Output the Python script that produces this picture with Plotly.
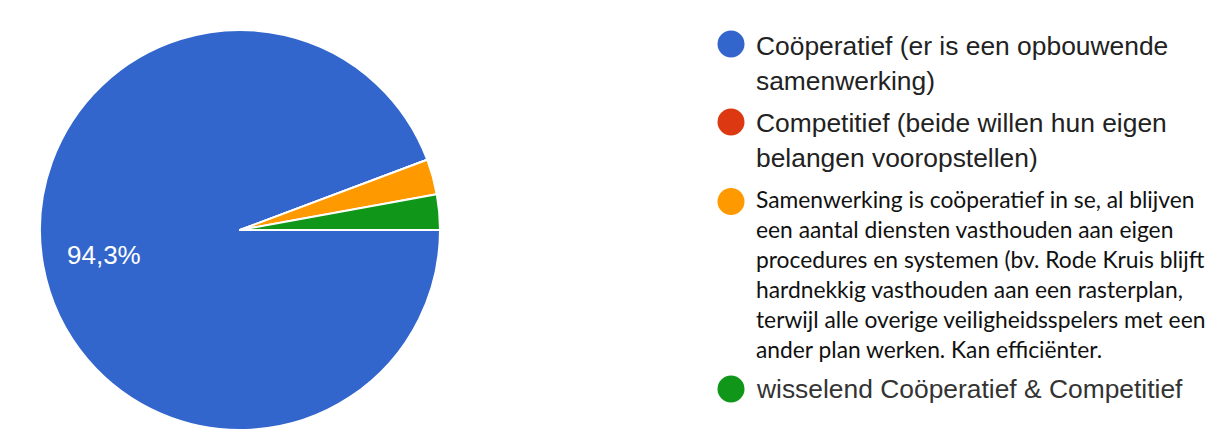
import math
import plotly.graph_objects as go

# Survey answers: how cooperation between services is experienced
labels = [
    "Coöperatief (er is een opbouwende<br>samenwerking)",
    "Competitief (beide willen hun eigen<br>belangen vooropstellen)",
    "Samenwerking is coöperatief in se, al blijven<br>een aantal diensten vasthouden aan eigen<br>"
    "procedures en systemen (bv. Rode Kruis blijft<br>hardnekkig vasthouden aan een rasterplan,<br>"
    "terwijl alle overige veiligheidsspelers met een<br>ander plan werken. Kan efficiënter.",
    "wisselend Coöperatief & Competitief",
]
counts = [33, 0, 1, 1]
colors = ["#3366CC", "#DC3912", "#FF9900", "#109618"]

W, H = 1217, 430


def px(x):
    return x / W


def py(y):
    return 1 - y / H


# pie geometry (pixels)
PIE_CX, PIE_CY, PIE_R = 240.0, 230.0, 200.0
START_DEG = 90.0  # first slice starts at 3 o'clock, running clockwise

fig = go.Figure(
    go.Pie(
        labels=labels,
        values=counts,
        sort=False,
        direction="clockwise",
        rotation=START_DEG,
        marker=dict(colors=colors, line=dict(color="white", width=2)),
        textinfo="none",
        hoverinfo="label+percent",
        showlegend=False,
        domain=dict(
            x=[px(PIE_CX - PIE_R), px(PIE_CX + PIE_R)],
            y=[py(PIE_CY + PIE_R), py(PIE_CY - PIE_R)],
        ),
    )
)

# percentage label for the dominant slice, placed along its mid-angle
total = sum(counts)
share = counts[0] / total
mid = math.radians(START_DEG + 180.0 * share)
label_r = 0.69 * PIE_R
lx = PIE_CX + label_r * math.sin(mid)
ly = PIE_CY - label_r * math.cos(mid)
pct_text = f"{share * 100:.1f}%".replace(".", ",")

annotations = [dict(
    xref="paper", yref="paper", x=px(lx), y=py(ly),
    xanchor="center", yanchor="middle", showarrow=False,
    text=pct_text, font=dict(family="Liberation Sans, Arial", size=26, color="white"),
)]

# hand-built legend: dot + wrapped label lines
legend_rows = [
    # (first baseline, line pitch, font family, size, text colour, dot centre y)
    (54.5, 35.0, "Liberation Sans, Arial", 26.4, "#222222", 44.0),
    (132.0, 35.0, "Liberation Sans, Arial", 26.4, "#222222", 122.0),
    (207.0, 30.0, "Lato, Carlito, Calibri", 22.8, "#111111", 201.5),
    (398.0, 35.0, "Liberation Sans, Arial", 26.4, "#333333", 389.0),
]
dot_x, dot_r, text_x = 731.0, 13.5, 754.0

shapes = []
for label, color, (base, pitch, fam, size, tcol, dot_y) in zip(labels, colors, legend_rows):
    shapes.append(dict(
        type="circle", xref="paper", yref="paper",
        x0=px(dot_x - dot_r), x1=px(dot_x + dot_r),
        y0=py(dot_y + dot_r), y1=py(dot_y - dot_r),
        fillcolor=color, line=dict(width=0),
    ))
    for i, line in enumerate(label.split("<br>")):
        baseline = base + i * pitch
        annotations.append(dict(
            xref="paper", yref="paper", x=px(text_x), y=py(baseline - 0.33 * size),
            xanchor="left", yanchor="middle", showarrow=False,
            text=line, font=dict(family=fam, size=size, color=tcol),
        ))

fig.update_layout(
    width=W, height=H,
    margin=dict(l=0, r=0, t=0, b=0),
    paper_bgcolor="white", plot_bgcolor="white",
    separators=",.",
    shapes=shapes,
    annotations=annotations,
)

fig.write_html("out.html")
